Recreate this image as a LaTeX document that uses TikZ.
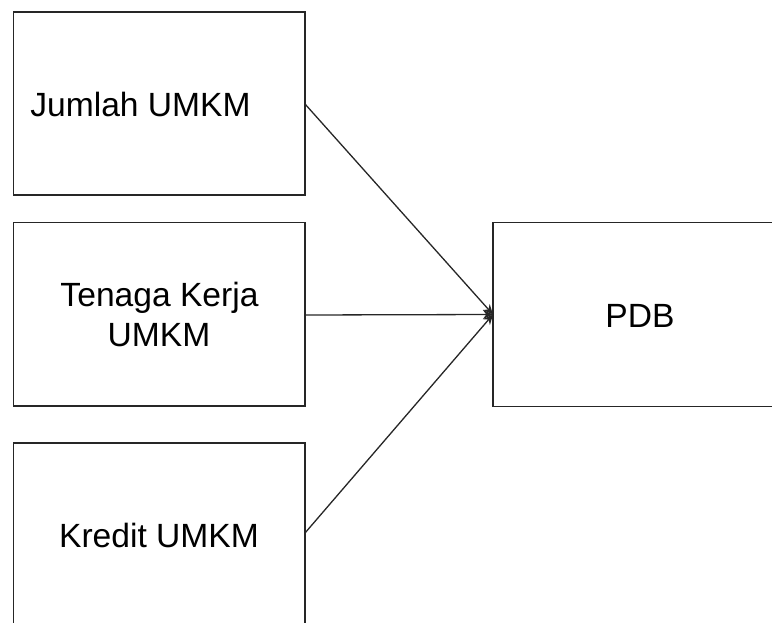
\documentclass[tikz,border=0pt]{standalone}
\usepackage{fontspec}
\setmainfont{Liberation Sans}
\usetikzlibrary{arrows.meta}
\begin{document}
\begin{tikzpicture}[x=1pt,y=-1pt,
  boxstyle/.style={draw=black!85,line width=1.4pt},
  lbl/.style={font=\fontsize{33.6}{40}\selectfont,inner sep=0pt,anchor=base},
  conn/.style={draw=black!85,line width=1.3pt,-{Stealth[length=10pt,width=9pt]}}]
\useasboundingbox (0,0) rectangle (772,623);
\draw[boxstyle] (13.5,12) rectangle (305,195);
\draw[boxstyle] (13.5,222.5) rectangle (305,406);
\draw[boxstyle] (305,640) -- (305,443) -- (13.5,443) -- (13.5,640);
\draw[boxstyle] (790,222.5) -- (493,222.5) -- (493,406.5) -- (790,406.5);
\node[lbl] (t1) at (140.5,117) {Jumlah UMKM};
\node[lbl] (t2a) at (159.5,306) {Tenaga Kerja};
\node[lbl] (t2b) at (159,346) {UMKM};
\node[lbl] (t3) at (159,547) {Kredit UMKM};
\node[lbl] (t4) at (640,327) {PDB};
\coordinate (s1) at (305,104);
\coordinate (s2) at (305,315);
\coordinate (s3) at (305,533);
\coordinate (e) at (493,314.5);
\draw[conn] (s1) -- (e);
\draw[conn] (s2) -- (e);
\draw[conn] (s3) -- (e);
\end{tikzpicture}
\end{document}
